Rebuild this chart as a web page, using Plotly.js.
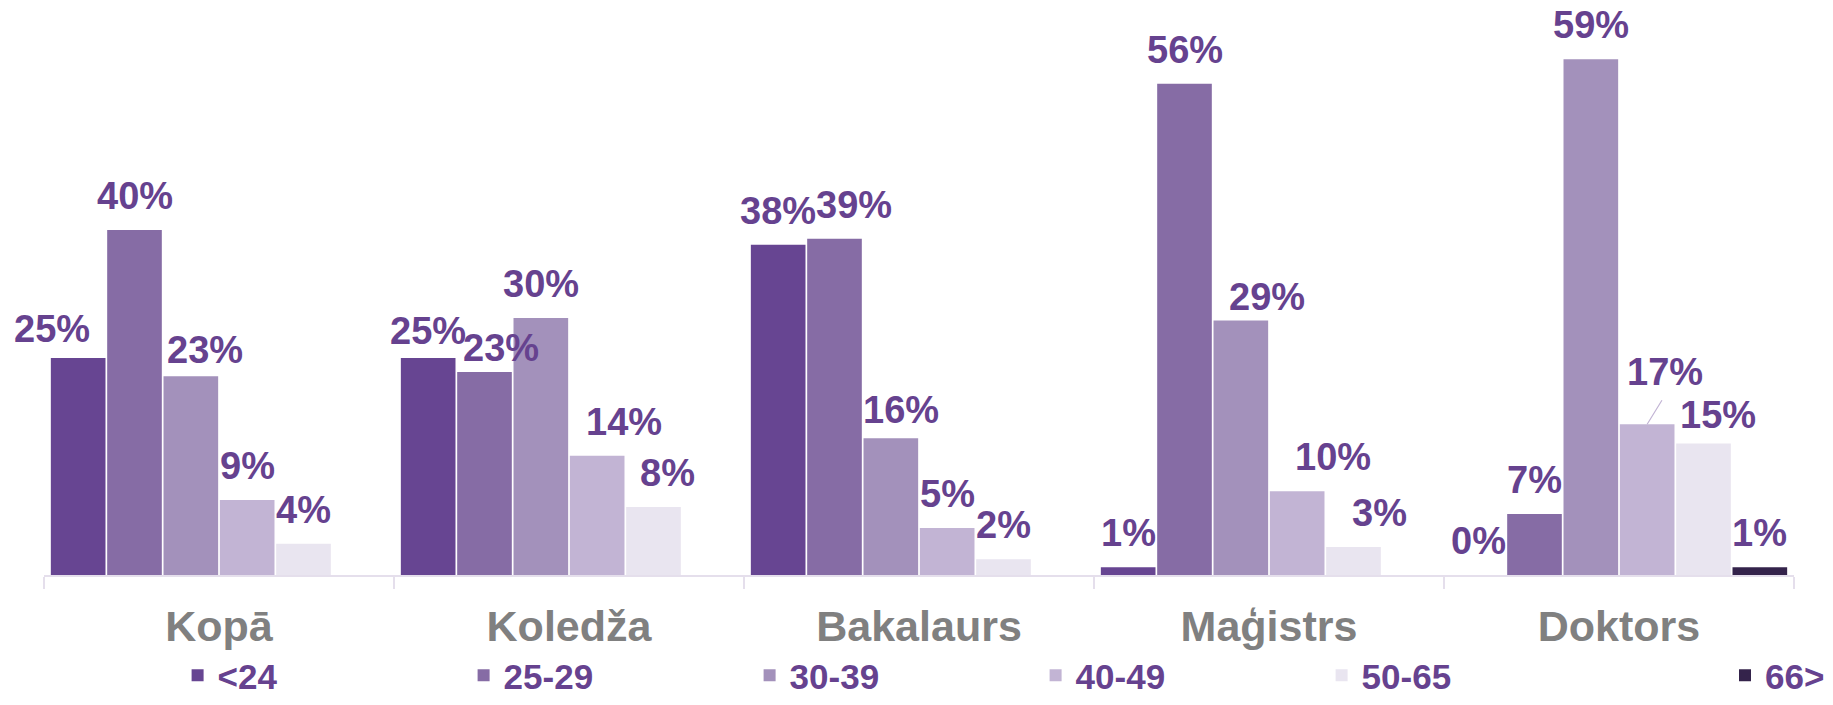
<!DOCTYPE html>
<html>
<head>
<meta charset="utf-8">
<script src="https://cdn.plot.ly/plotly-3.0.1.min.js"></script>
<style>
  html, body { margin: 0; padding: 0; background: #ffffff; }
  #chart { width: 1833px; height: 705px; }
</style>
</head>
<body>
<div id="chart"></div>
<script>
// ---- data ----
const categories = ['Kopā', 'Koledža', 'Bakalaurs', 'Maģistrs', 'Doktors'];
const seriesNames = ['<24', '25-29', '30-39', '40-49', '50-65', '66>'];
const under24   = [24.9, 24.9, 37.9, 0.9, 0];
const age25_29  = [39.6, 23.3, 38.6, 56.4, 7.0];
const age30_39  = [22.8, 29.5, 15.7, 29.2, 59.2];
const age40_49  = [8.6, 13.7, 5.4, 9.6, 17.3];
const age50_65  = [3.6, 7.8, 1.8, 3.2, 15.1];
const age66plus = [null, null, null, null, 0.9];

// ---- styling ----
const seriesValues = [under24, age25_29, age30_39, age40_49, age50_65, age66plus];
const colors = ['#674592', '#866ca5', '#a391bb', '#c2b4d4', '#e9e5f0', '#34234b'];
const labelColor = '#66428f';
const FONT = '"Liberation Sans", Arial, Helvetica, sans-serif';
const BARGAP = 12 / 350;
const BARGROUPGAP = 0.03;
const BASE_YSHIFT = 11;
// per-label nudges (pixels) keyed "category,series"
const LABEL_ADJUST = {
  '0,0': {dx: -26, dy: -5},
  '0,2': {dx: 14, dy: -8},
  '1,0': {dy: -7},
  '1,1': {dx: 16, dy: -10},
  '1,3': {dx: 27},
  '1,4': {dx: 14},
  '2,1': {dx: 19},
  '2,2': {dx: 10, dy: -6},
  '3,2': {dx: 26, dy: -10},
  '3,3': {dx: 36},
  '3,4': {dx: 26},
  '4,3': {dx: 18, dy: 18, leader: {ax: 16, ay: -26}},
  '4,4': {dx: 14, dy: -6}
};

const traces = seriesNames.map((name, i) => ({
  type: 'bar',
  name: name,
  x: categories,
  y: seriesValues[i],
  marker: {color: colors[i], line: {width: 0}},
  legend: i === 5 ? 'legend2' : 'legend',
  hoverinfo: 'skip'
}));

const nSeries = seriesNames.length;
const slot = (1 - BARGAP) / nSeries;
const annotations = [];
seriesValues.forEach((vals, i) => {
  vals.forEach((v, j) => {
    if (v === null || v === undefined) return;
    const adj = LABEL_ADJUST[j + ',' + i] || {};
    const xPos = j + (i - (nSeries - 1) / 2) * slot;
    annotations.push({
      x: xPos, y: v, xref: 'x', yref: 'y',
      text: Math.round(v) + '%',
      showarrow: false,
      xanchor: 'center', yanchor: 'bottom',
      xshift: adj.dx || 0,
      yshift: BASE_YSHIFT + (adj.dy || 0),
      font: {family: FONT, size: 38, color: labelColor, weight: 'bold'}
    });
    if (adj.leader) {
      annotations.push({
        x: xPos, y: v, xref: 'x', yref: 'y',
        text: ' ', showarrow: true, arrowhead: 0, arrowwidth: 1.2,
        arrowcolor: '#c2b4d4', standoff: 0, startstandoff: 0,
        ax: adj.leader.ax, ay: adj.leader.ay,
        font: {size: 1}
      });
    }
  });
});

const axisColor = '#e5dfec';
const legendFont = {family: FONT, size: 35, color: labelColor, weight: 'bold'};
const layout = {
  width: 1833, height: 705,
  margin: {l: 44, r: 39, t: 0, b: 130, autoexpand: false},
  paper_bgcolor: '#ffffff', plot_bgcolor: '#ffffff',
  barmode: 'group', bargap: BARGAP, bargroupgap: BARGROUPGAP,
  showlegend: true,
  xaxis: {
    type: 'category', range: [-0.5, categories.length - 0.5], autorange: false,
    showline: true, linecolor: axisColor, linewidth: 2,
    ticks: 'outside', tickson: 'boundaries', ticklen: 12, tickwidth: 2, tickcolor: axisColor,
    tickfont: {family: FONT, size: 43, color: '#808080', weight: 'bold'},
    ticklabelstandoff: 12,
    showgrid: false, zeroline: false, fixedrange: true
  },
  yaxis: {
    range: [0, 66], autorange: false, visible: false, showgrid: false, zeroline: false, fixedrange: true
  },
  legend: {
    orientation: 'h', x: (177.6 - 44) / 1750, xanchor: 'left',
    y: -130 / 575, yanchor: 'bottom',
    entrywidth: 241, entrywidthmode: 'pixels',
    font: legendFont,
    bgcolor: 'rgba(0,0,0,0)', traceorder: 'normal'
  },
  legend2: {
    orientation: 'h', x: (1725 - 44) / 1750, xanchor: 'left',
    y: -130 / 575, yanchor: 'bottom',
    font: legendFont,
    bgcolor: 'rgba(0,0,0,0)'
  },
  annotations: annotations
};

Plotly.newPlot('chart', traces, layout, {displayModeBar: false, staticPlot: true});
</script>
</body>
</html>
